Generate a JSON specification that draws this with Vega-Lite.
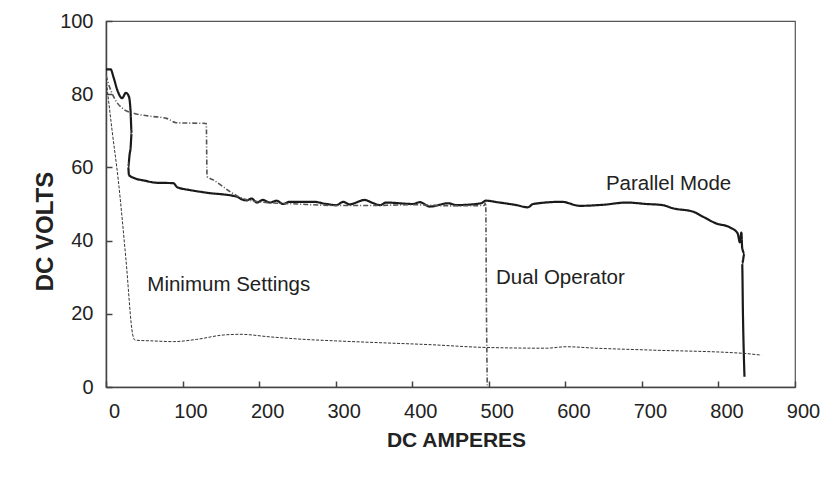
{
  "$schema": "https://vega.github.io/schema/vega-lite/v6.json",
  "width": 689,
  "height": 366,
  "autosize": "none",
  "padding": {"left": 106, "top": 21, "right": 35, "bottom": 91},
  "config": {
    "font": "Liberation Sans",
    "view": {"stroke": "#555", "strokeWidth": 1.2},
    "axis": {
      "grid": false,
      "domainColor": "#444",
      "domainWidth": 1.5,
      "tickColor": "#444",
      "tickWidth": 1.5,
      "labelColor": "#222",
      "labelFontSize": 20,
      "titleColor": "#222",
      "titleFontSize": 21,
      "titleFontWeight": "bold"
    }
  },
  "datasets": {
    "curves": [
      {"series": "Parallel Mode", "seq": 1, "amps": 0, "volts": 86.8},
      {"series": "Parallel Mode", "seq": 2, "amps": 6, "volts": 86.8},
      {"series": "Parallel Mode", "seq": 3, "amps": 10, "volts": 84.5},
      {"series": "Parallel Mode", "seq": 4, "amps": 15, "volts": 81},
      {"series": "Parallel Mode", "seq": 5, "amps": 21, "volts": 78.9},
      {"series": "Parallel Mode", "seq": 6, "amps": 26, "volts": 80.4},
      {"series": "Parallel Mode", "seq": 7, "amps": 30, "volts": 79.3},
      {"series": "Parallel Mode", "seq": 8, "amps": 32, "volts": 75.7},
      {"series": "Parallel Mode", "seq": 9, "amps": 33.5, "volts": 69.3},
      {"series": "Parallel Mode", "seq": 10, "amps": 32, "volts": 65},
      {"series": "Parallel Mode", "seq": 11, "amps": 31, "volts": 63.8},
      {"series": "Parallel Mode", "seq": 12, "amps": 29, "volts": 60.2},
      {"series": "Parallel Mode", "seq": 13, "amps": 30, "volts": 57.9},
      {"series": "Parallel Mode", "seq": 14, "amps": 38, "volts": 57.0},
      {"series": "Parallel Mode", "seq": 15, "amps": 50, "volts": 56.4},
      {"series": "Parallel Mode", "seq": 16, "amps": 66, "volts": 55.8},
      {"series": "Parallel Mode", "seq": 17, "amps": 88, "volts": 55.7},
      {"series": "Parallel Mode", "seq": 18, "amps": 93, "volts": 54.6},
      {"series": "Parallel Mode", "seq": 19, "amps": 110, "volts": 53.8},
      {"series": "Parallel Mode", "seq": 20, "amps": 131, "volts": 53.1},
      {"series": "Parallel Mode", "seq": 21, "amps": 171, "volts": 52.0},
      {"series": "Parallel Mode", "seq": 22, "amps": 177, "volts": 51.3},
      {"series": "Parallel Mode", "seq": 23, "amps": 184, "volts": 51.0},
      {"series": "Parallel Mode", "seq": 24, "amps": 190, "volts": 51.5},
      {"series": "Parallel Mode", "seq": 25, "amps": 197, "volts": 50.4},
      {"series": "Parallel Mode", "seq": 26, "amps": 205, "volts": 51.1},
      {"series": "Parallel Mode", "seq": 27, "amps": 214, "volts": 50.4},
      {"series": "Parallel Mode", "seq": 28, "amps": 223, "volts": 50.9},
      {"series": "Parallel Mode", "seq": 29, "amps": 231, "volts": 50.0},
      {"series": "Parallel Mode", "seq": 30, "amps": 240, "volts": 50.6},
      {"series": "Parallel Mode", "seq": 31, "amps": 271, "volts": 50.6},
      {"series": "Parallel Mode", "seq": 32, "amps": 288, "volts": 50.0},
      {"series": "Parallel Mode", "seq": 33, "amps": 301, "volts": 49.7},
      {"series": "Parallel Mode", "seq": 34, "amps": 310, "volts": 50.6},
      {"series": "Parallel Mode", "seq": 35, "amps": 318, "volts": 49.9},
      {"series": "Parallel Mode", "seq": 36, "amps": 338, "volts": 51.1},
      {"series": "Parallel Mode", "seq": 37, "amps": 347, "volts": 50.4},
      {"series": "Parallel Mode", "seq": 38, "amps": 358, "volts": 49.7},
      {"series": "Parallel Mode", "seq": 39, "amps": 366, "volts": 50.4},
      {"series": "Parallel Mode", "seq": 40, "amps": 401, "volts": 50.0},
      {"series": "Parallel Mode", "seq": 41, "amps": 410, "volts": 50.5},
      {"series": "Parallel Mode", "seq": 42, "amps": 423, "volts": 49.3},
      {"series": "Parallel Mode", "seq": 43, "amps": 447, "volts": 50.2},
      {"series": "Parallel Mode", "seq": 44, "amps": 458, "volts": 49.7},
      {"series": "Parallel Mode", "seq": 45, "amps": 490, "volts": 50.2},
      {"series": "Parallel Mode", "seq": 46, "amps": 496, "volts": 50.9},
      {"series": "Parallel Mode", "seq": 47, "amps": 514, "volts": 50.4},
      {"series": "Parallel Mode", "seq": 48, "amps": 536, "volts": 49.7},
      {"series": "Parallel Mode", "seq": 49, "amps": 551, "volts": 49.1},
      {"series": "Parallel Mode", "seq": 50, "amps": 558, "volts": 50.0},
      {"series": "Parallel Mode", "seq": 51, "amps": 595, "volts": 50.6},
      {"series": "Parallel Mode", "seq": 52, "amps": 619, "volts": 49.5},
      {"series": "Parallel Mode", "seq": 53, "amps": 650, "volts": 49.8},
      {"series": "Parallel Mode", "seq": 54, "amps": 680, "volts": 50.4},
      {"series": "Parallel Mode", "seq": 55, "amps": 706, "volts": 50.0},
      {"series": "Parallel Mode", "seq": 56, "amps": 727, "volts": 49.7},
      {"series": "Parallel Mode", "seq": 57, "amps": 741, "volts": 48.8},
      {"series": "Parallel Mode", "seq": 58, "amps": 767, "volts": 47.9},
      {"series": "Parallel Mode", "seq": 59, "amps": 780, "volts": 46.5},
      {"series": "Parallel Mode", "seq": 60, "amps": 797, "volts": 44.7},
      {"series": "Parallel Mode", "seq": 61, "amps": 815, "volts": 43.6},
      {"series": "Parallel Mode", "seq": 62, "amps": 825, "volts": 42.0},
      {"series": "Parallel Mode", "seq": 63, "amps": 828, "volts": 39.5},
      {"series": "Parallel Mode", "seq": 64, "amps": 830, "volts": 42.2},
      {"series": "Parallel Mode", "seq": 65, "amps": 831, "volts": 38.0},
      {"series": "Parallel Mode", "seq": 66, "amps": 834, "volts": 36.5},
      {"series": "Parallel Mode", "seq": 67, "amps": 831, "volts": 33.8},
      {"series": "Parallel Mode", "seq": 68, "amps": 832, "volts": 20.0},
      {"series": "Parallel Mode", "seq": 69, "amps": 834, "volts": 2.8},
      {"series": "Dual Operator", "seq": 1, "amps": 0, "volts": 85.2},
      {"series": "Dual Operator", "seq": 2, "amps": 3, "volts": 83},
      {"series": "Dual Operator", "seq": 3, "amps": 7, "volts": 80.7},
      {"series": "Dual Operator", "seq": 4, "amps": 12, "volts": 78.5},
      {"series": "Dual Operator", "seq": 5, "amps": 23, "volts": 75.9},
      {"series": "Dual Operator", "seq": 6, "amps": 36, "volts": 74.8},
      {"series": "Dual Operator", "seq": 7, "amps": 57, "volts": 74.0},
      {"series": "Dual Operator", "seq": 8, "amps": 79, "volts": 73.4},
      {"series": "Dual Operator", "seq": 9, "amps": 92, "volts": 72.2},
      {"series": "Dual Operator", "seq": 10, "amps": 131, "volts": 72.0},
      {"series": "Dual Operator", "seq": 11, "amps": 132, "volts": 57.5},
      {"series": "Dual Operator", "seq": 12, "amps": 140, "volts": 56.6},
      {"series": "Dual Operator", "seq": 13, "amps": 162, "volts": 53.4},
      {"series": "Dual Operator", "seq": 14, "amps": 173, "volts": 52.0},
      {"series": "Dual Operator", "seq": 15, "amps": 200, "volts": 50.6},
      {"series": "Dual Operator", "seq": 16, "amps": 250, "volts": 50.0},
      {"series": "Dual Operator", "seq": 17, "amps": 300, "volts": 49.6},
      {"series": "Dual Operator", "seq": 18, "amps": 350, "volts": 49.6},
      {"series": "Dual Operator", "seq": 19, "amps": 400, "volts": 49.8},
      {"series": "Dual Operator", "seq": 20, "amps": 450, "volts": 49.5},
      {"series": "Dual Operator", "seq": 21, "amps": 494, "volts": 49.6},
      {"series": "Dual Operator", "seq": 22, "amps": 496, "volts": 50.5},
      {"series": "Dual Operator", "seq": 23, "amps": 497, "volts": 20},
      {"series": "Dual Operator", "seq": 24, "amps": 498, "volts": 0.5},
      {"series": "Minimum Settings", "seq": 1, "amps": 0, "volts": 84.3},
      {"series": "Minimum Settings", "seq": 2, "amps": 8, "volts": 70},
      {"series": "Minimum Settings", "seq": 3, "amps": 16, "volts": 56.6},
      {"series": "Minimum Settings", "seq": 4, "amps": 26, "volts": 35},
      {"series": "Minimum Settings", "seq": 5, "amps": 35, "volts": 14.2},
      {"series": "Minimum Settings", "seq": 6, "amps": 38, "volts": 12.8},
      {"series": "Minimum Settings", "seq": 7, "amps": 60, "volts": 12.6},
      {"series": "Minimum Settings", "seq": 8, "amps": 88, "volts": 12.4},
      {"series": "Minimum Settings", "seq": 9, "amps": 118, "volts": 13.0},
      {"series": "Minimum Settings", "seq": 10, "amps": 153, "volts": 14.2},
      {"series": "Minimum Settings", "seq": 11, "amps": 175, "volts": 14.4},
      {"series": "Minimum Settings", "seq": 12, "amps": 214, "volts": 13.7},
      {"series": "Minimum Settings", "seq": 13, "amps": 260, "volts": 13.0},
      {"series": "Minimum Settings", "seq": 14, "amps": 300, "volts": 12.6},
      {"series": "Minimum Settings", "seq": 15, "amps": 358, "volts": 12.1},
      {"series": "Minimum Settings", "seq": 16, "amps": 420, "volts": 11.6},
      {"series": "Minimum Settings", "seq": 17, "amps": 497, "volts": 10.8},
      {"series": "Minimum Settings", "seq": 18, "amps": 575, "volts": 10.6},
      {"series": "Minimum Settings", "seq": 19, "amps": 601, "volts": 11.0},
      {"series": "Minimum Settings", "seq": 20, "amps": 640, "volts": 10.6},
      {"series": "Minimum Settings", "seq": 21, "amps": 710, "volts": 10.1},
      {"series": "Minimum Settings", "seq": 22, "amps": 832, "volts": 9.2},
      {"series": "Minimum Settings", "seq": 23, "amps": 856, "volts": 8.7}
    ],
    "labels": [
      {"label": "Parallel Mode", "amps": 653, "volts": 53.8},
      {"label": "Dual Operator", "amps": 509.5, "volts": 28.1},
      {"label": "Minimum Settings", "amps": 54, "volts": 26.2}
    ]
  },
  "layer": [
    {
      "data": {"name": "curves"},
      "mark": {"type": "line", "interpolate": "monotone", "clip": true},
      "encoding": {
        "x": {
          "field": "amps", "type": "quantitative",
          "scale": {"domain": [0, 900], "nice": false, "zero": false},
          "axis": {
            "title": "DC AMPERES",
            "values": [0, 50, 100, 150, 200, 250, 300, 350, 400, 450, 500, 550, 600, 650, 700, 750, 800, 850, 900],
            "labelExpr": "datum.value % 100 == 0 ? datum.label : ''",
            "tickSize": -6,
            "labelPadding": 20,
            "labelOffset": 8,
            "labelFlush": false,
            "labelOverlap": false,
            "titleX": 350,
            "titleY": 53,
            "titleBaseline": "middle",
            "titleAlign": "center"
          }
        },
        "y": {
          "field": "volts", "type": "quantitative",
          "scale": {"domain": [0, 100], "nice": false},
          "axis": {
            "title": "DC VOLTS",
            "titleFontSize": 24,
            "values": [0, 10, 20, 30, 40, 50, 60, 70, 80, 90, 100],
            "labelExpr": "datum.value % 20 == 0 ? datum.label : ''",
            "tickSize": -6,
            "labelPadding": 19,
            "labelFlush": false,
            "labelOverlap": false,
            "titleX": -61,
            "titleY": 210,
            "titleBaseline": "middle",
            "titleAlign": "center",
            "titleAngle": -90
          }
        },
        "order": {"field": "seq", "type": "quantitative"},
        "color": {
          "field": "series", "type": "nominal", "legend": null,
          "scale": {"domain": ["Parallel Mode", "Dual Operator", "Minimum Settings"], "range": ["#1a1a1a", "#555555", "#333333"]}
        },
        "strokeDash": {
          "field": "series", "type": "nominal", "legend": null,
          "scale": {"domain": ["Parallel Mode", "Dual Operator", "Minimum Settings"], "range": [[1, 0], [5, 2, 1, 2], [3, 1.5]]}
        },
        "strokeWidth": {
          "field": "series", "type": "nominal", "legend": null,
          "scale": {"domain": ["Parallel Mode", "Dual Operator", "Minimum Settings"], "range": [2.2, 1, 1]}
        }
      }
    },
    {
      "data": {"name": "labels"},
      "mark": {"type": "text", "align": "left", "baseline": "alphabetic", "fontSize": 20.5, "color": "#222"},
      "encoding": {
        "x": {"field": "amps", "type": "quantitative"},
        "y": {"field": "volts", "type": "quantitative"},
        "text": {"field": "label"}
      }
    }
  ]
}
